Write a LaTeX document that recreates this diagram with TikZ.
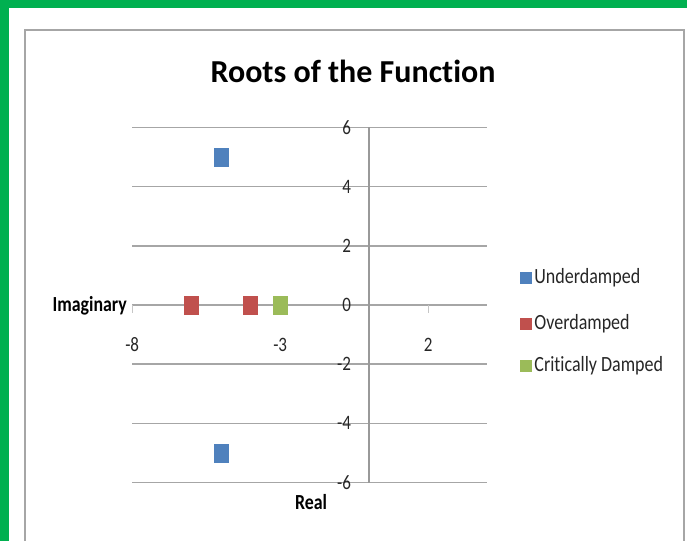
\documentclass[tikz,border=0pt]{standalone}
\usepackage{fontspec}
\setmainfont{Carlito}[Ligatures=NoCommon]
\newfontfamily\chartfont{Carlito}[FakeStretch=0.83, Ligatures=NoCommon]
\usepackage{xcolor}
\usetikzlibrary{positioning}
\definecolor{udblue}{HTML}{4F81BD}
\definecolor{odred}{HTML}{C0504D}
\definecolor{cdgreen}{HTML}{9BBB59}
\definecolor{framegreen}{HTML}{00B050}
\definecolor{gridgray}{HTML}{A6A6A6}
\tikzset{
  gridline/.style={draw=gridgray, line width=1.6pt},
  axisline/.style={draw=gray!80, line width=1.2pt},
  tickmark/.style={draw=gray!45, line width=0.8pt},
  ticklabel/.style={inner sep=0pt, font=\chartfont\fontsize{20.5}{22}\selectfont, text=black!85},
  axistitle/.style={inner sep=0pt, font=\chartfont\bfseries\fontsize{21.5}{23}\selectfont},
  rootbox/.style={rectangle, inner sep=0pt, minimum width=15pt, minimum height=19pt},
  legsq/.style={rectangle, inner sep=0pt, minimum size=12pt},
  legtext/.style={inner sep=0pt, font=\chartfont\fontsize{21.7}{23}\selectfont, text=black!85}
}

\begin{document}
\begin{tikzpicture}[x=1pt, y=-1pt]
  \useasboundingbox (0,0) rectangle (687,541);
  % green edge and chart frame
  \fill[framegreen] (0,0) rectangle (687,8);
  \fill[framegreen] (0,0) rectangle (9,541);
  \draw[gray!70, line width=1.8pt] (25,541) -- (25,30) -- (684,30) -- (684,541);
  % title
  \node[font=\bfseries\fontsize{32}{36}\selectfont, anchor=base] (title) at (353,82) {Roots of the Function};
  % plot area, in data units
  \begin{scope}[shift={(369,305)}, x=29.6pt, y=29.6pt]
    \foreach \gy in {-6,-4,...,6}
      \draw[gridline] (-8,\gy) -- (4,\gy);
    \draw[axisline] (0,-6) -- (0,6);
    \foreach \gx in {-8,-3,2}
      \draw[tickmark] (\gx,0) -- (\gx,-0.27);
    \foreach \gy [count=\i] in {-6,-4,...,6}
      \node[ticklabel, anchor=east] (ylab\i) at (-0.6,\gy) {\gy};
    \foreach \gx [count=\i] in {-8,-3,2}
      \node[ticklabel] (xlab\i) at (\gx,-1.35) {\gx};
    % roots
    \node[rootbox, fill=udblue] (ud1) at (-5,5) {};
    \node[rootbox, fill=udblue] (ud2) at (-5,-5) {};
    \node[rootbox, fill=odred] (od1) at (-6,0) {};
    \node[rootbox, fill=odred] (od2) at (-4,0) {};
    \node[rootbox, fill=cdgreen] (cd1) at (-3,0) {};
  \end{scope}
  % axis titles
  \node[axistitle, anchor=east] (imag) at (127,306) {Imaginary};
  \node[axistitle] (real) at (311,502) {Real};
  % legend
  \node[legsq, fill=udblue] (legud) at (526,278) {};
  \node[legtext, right=2pt of legud] (legudtxt) {Underdamped};
  \node[legsq, fill=odred] (legod) at (526,324) {};
  \node[legtext, right=2pt of legod] (legodtxt) {Overdamped};
  \node[legsq, fill=cdgreen] (legcd) at (526,366) {};
  \node[legtext, right=2pt of legcd] (legcdtxt) {Critically Damped};
\end{tikzpicture}
\end{document}
